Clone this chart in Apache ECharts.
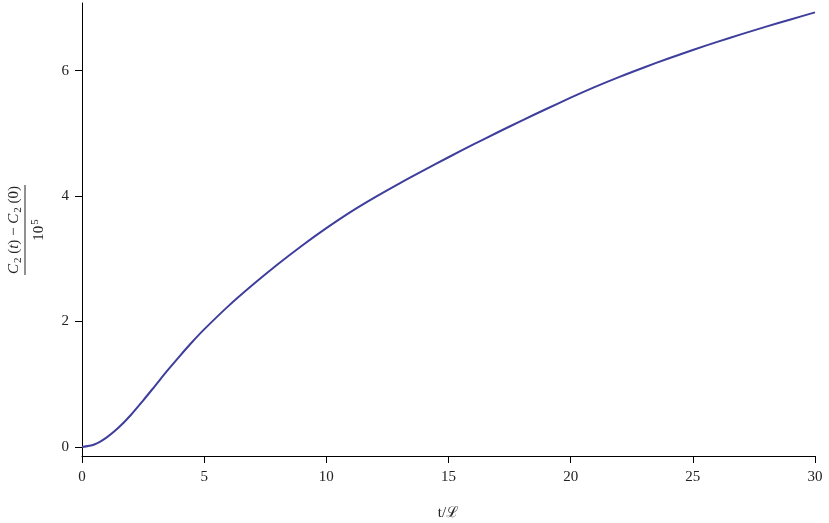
<!DOCTYPE html>
<html>
<head>
<meta charset="utf-8">
<script src="https://cdn.jsdelivr.net/npm/echarts@6/dist/echarts.min.js"></script>
<style>
  html, body { margin: 0; padding: 0; background: #fff; }
  #chart { width: 829px; height: 523px; }
</style>
</head>
<body>
<div id="chart"></div>
<script>
// t / L values and (C2(t) - C2(0)) / 10^5
var tValues = [0, 0.5, 1, 1.5, 2, 2.5, 3, 3.5, 4, 4.5, 5, 6, 7, 8, 9, 10, 11, 12, 13, 14, 15,
  16, 17, 18, 19, 20, 21, 22, 23, 24, 25, 26, 27, 28, 29, 30];
var cValues = [0, 0.04, 0.15, 0.31, 0.51, 0.74, 0.98, 1.22, 1.45, 1.67, 1.875, 2.25, 2.59, 2.91, 3.21, 3.49, 3.75, 3.985, 4.205, 4.415, 4.62,
  4.82, 5.015, 5.205, 5.39, 5.57, 5.742, 5.902, 6.052, 6.195, 6.33, 6.46, 6.584, 6.703, 6.818, 6.93];
var yTicks = [0, 2, 4, 6];

var font = "'Liberation Serif', 'DejaVu Serif', serif";
var chart = echarts.init(document.getElementById("chart"));

chart.setOption({
  animation: false,
  grid: { left: 82, right: 14, top: 3, bottom: 67, outerBoundsMode: "none" },
  xAxis: {
    type: "value",
    min: 0,
    max: 30,
    interval: 5,
    name: "t/ℒ",
    nameLocation: "middle",
    nameGap: 50,
    nameTextStyle: { fontFamily: font, fontSize: 15, color: "#222" },
    axisLine: { onZero: false, lineStyle: { color: "#000", width: 1 } },
    axisTick: { length: 7, lineStyle: { color: "#000" } },
    axisLabel: { margin: 14, fontFamily: font, fontSize: 15, color: "#222" },
    splitLine: { show: false }
  },
  yAxis: {
    type: "value",
    min: -0.144,
    max: 7.08,
    axisLine: { show: true, lineStyle: { color: "#000", width: 1 } },
    axisTick: { show: true, length: 7, customValues: yTicks, lineStyle: { color: "#000" } },
    axisLabel: { margin: 13, fontFamily: font, fontSize: 15, color: "#222", customValues: yTicks },
    splitLine: { show: false }
  },
  graphic: [{
    type: "group",
    x: 22,
    y: 230,
    rotation: Math.PI / 2,
    children: [
      {
        type: "text",
        x: 0,
        y: -8,
        style: {
          text: "{i|C}{s|2}{n| (}{i|t}{n|) − }{i|C}{s|2}{n| (0)}",
          align: "center",
          verticalAlign: "middle",
          fill: "#222",
          rich: {
            i: { fontFamily: font, fontSize: 15, fontStyle: "italic", fill: "#222" },
            n: { fontFamily: font, fontSize: 15, fill: "#222" },
            s: { fontFamily: font, fontSize: 11, fill: "#222", padding: [8, 0, 0, 1] }
          }
        }
      },
      {
        type: "line",
        shape: { x1: -45, y1: 3, x2: 45, y2: 3 },
        style: { stroke: "#222", lineWidth: 1 }
      },
      {
        type: "text",
        x: 0,
        y: 17,
        style: {
          text: "{n|10}{p|5}",
          align: "center",
          verticalAlign: "middle",
          rich: {
            n: { fontFamily: font, fontSize: 15, fill: "#222" },
            p: { fontFamily: font, fontSize: 11, fill: "#222", padding: [0, 0, 8, 1] }
          }
        }
      }
    ]
  }],
  series: [{
    type: "line",
    data: tValues.map(function (t, i) { return [t, cValues[i]]; }),
    smooth: 0.3,
    showSymbol: false,
    lineStyle: { color: "#3e3e9c", width: 2 }
  }]
});
</script>
</body>
</html>
